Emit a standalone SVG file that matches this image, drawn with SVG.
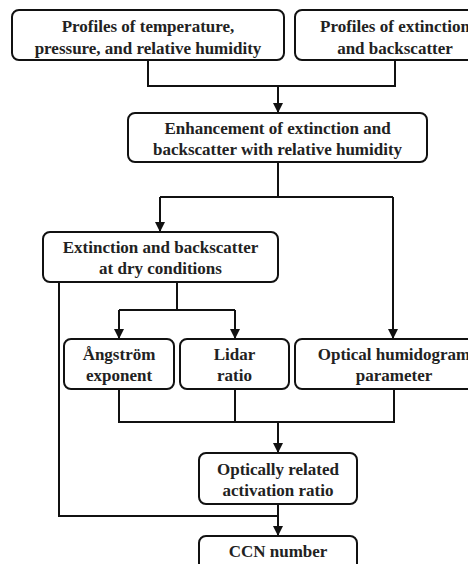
<svg xmlns="http://www.w3.org/2000/svg" width="468" height="564" viewBox="0 0 468 564">
<style>
.box{fill:#fff;stroke:#111;stroke-width:2}
.t{font-family:'Liberation Serif','Times New Roman',serif;font-weight:700;font-size:17px;fill:#222;text-anchor:middle}
.c{fill:none;stroke:#111;stroke-width:2}
</style>
<defs>
<marker id="ah" markerUnits="userSpaceOnUse" markerWidth="12" markerHeight="12" viewBox="0 0 12 12" refX="6" refY="11" orient="0">
<path d="M1,1 L11,1 L6,11 Z" fill="#111"/>
</marker>
</defs>
<rect width="468" height="564" fill="#fff"/>
<g id="connectors">
<path class="c" d="M148 60 V86 H395 V60"/>
<path class="c" d="M278 86 V113" marker-end="url(#ah)"/>
<path class="c" d="M278 162 V197"/>
<path class="c" d="M160 197 H393"/>
<path class="c" d="M160 197 V232" marker-end="url(#ah)"/>
<path class="c" d="M393 197 V339" marker-end="url(#ah)"/>
<path class="c" d="M177 282 V310"/>
<path class="c" d="M119 310 H235"/>
<path class="c" d="M119 310 V339" marker-end="url(#ah)"/>
<path class="c" d="M235 310 V339" marker-end="url(#ah)"/>
<path class="c" d="M119 389 V422 H394 V389"/>
<path class="c" d="M235 389 V422"/>
<path class="c" d="M278 422 V453" marker-end="url(#ah)"/>
<path class="c" d="M59 282 V516 H278"/>
<path class="c" d="M278 504 V536" marker-end="url(#ah)"/>
</g>
<g id="n1"><rect class="box" x="12" y="10" width="272" height="50" rx="7"/>
<text class="t" x="148" y="31.5">Profiles of temperature,</text>
<text class="t" x="148" y="53.5">pressure, and relative humidity</text></g>
<g id="n2"><rect class="box" x="295" y="10" width="185" height="50" rx="7"/>
<text class="t" x="395" y="31.5">Profiles of extinction</text>
<text class="t" x="395" y="53.5">and backscatter</text></g>
<g id="n3"><rect class="box" x="128" y="113" width="299" height="49" rx="7"/>
<text class="t" x="277.5" y="133.5">Enhancement of extinction and</text>
<text class="t" x="277.5" y="154.5">backscatter with relative humidity</text></g>
<g id="n4"><rect class="box" x="43" y="232" width="235" height="50" rx="7"/>
<text class="t" x="160.5" y="252.5">Extinction and backscatter</text>
<text class="t" x="160.5" y="274">at dry conditions</text></g>
<g id="n5"><rect class="box" x="64" y="339" width="110" height="50" rx="7"/>
<text class="t" x="119" y="360">Ångström</text>
<text class="t" x="119" y="381">exponent</text></g>
<g id="n6"><rect class="box" x="180" y="339" width="109" height="50" rx="7"/>
<text class="t" x="234.5" y="360">Lidar</text>
<text class="t" x="234.5" y="381">ratio</text></g>
<g id="n7"><rect class="box" x="295" y="339" width="185" height="50" rx="7"/>
<text class="t" x="394" y="360">Optical humidogram</text>
<text class="t" x="394" y="381">parameter</text></g>
<g id="n8"><rect class="box" x="199" y="453" width="158" height="51" rx="7"/>
<text class="t" x="278" y="475">Optically related</text>
<text class="t" x="278" y="496">activation ratio</text></g>
<g id="n9"><rect class="box" x="199" y="536" width="158" height="45" rx="7"/>
<text class="t" x="278" y="557">CCN number</text></g>
</svg>
